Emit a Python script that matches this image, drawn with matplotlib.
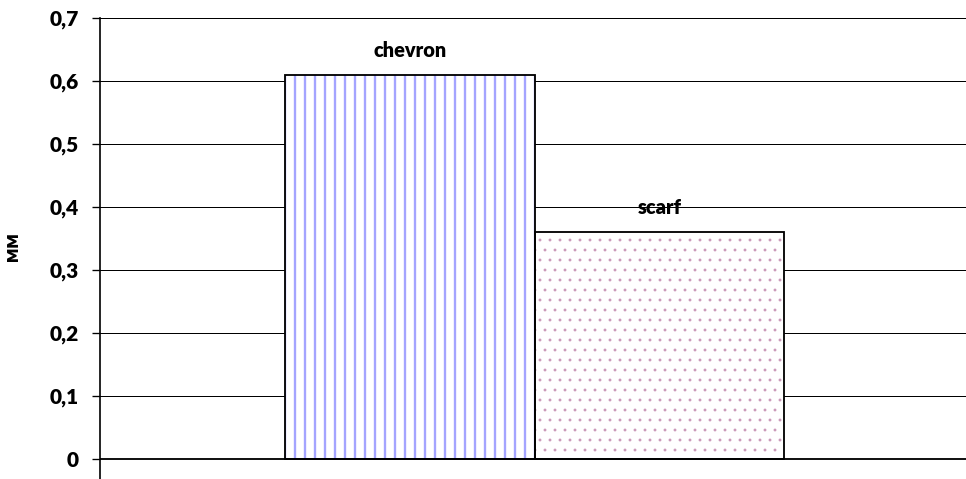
import numpy as np
import matplotlib.pyplot as plt
from matplotlib.ticker import FuncFormatter

categories = ['chevron', 'scarf']
values = [0.61, 0.36]
yticks = [0, 0.1, 0.2, 0.3, 0.4, 0.5, 0.6, 0.7]

fonts = ['Lato', 'Open Sans', 'DejaVu Sans']
plt.rcParams['font.family'] = fonts

DPI = 120
fig = plt.figure(figsize=(966 / DPI, 479 / DPI), dpi=DPI)
ax = fig.add_axes([100 / 966, 0, 1 - 100 / 966, 1 - 18 / 479])

x = np.arange(len(categories))
hatches = ['||', '..']
hatch_colors = ['#a4a4ff', '#c995b5']
hatch_lw = [1.4, 0.5]

for xi, v, h, hc, hlw in zip(x, values, hatches, hatch_colors, hatch_lw):
    with plt.rc_context({'hatch.linewidth': hlw}):
        b = ax.bar(xi, v, width=1.0, color='white', edgecolor=hc,
                   hatch=h, linewidth=0, zorder=2)
    if hasattr(b[0], 'set_hatch_linewidth'):
        b[0].set_hatch_linewidth(hlw)
    ax.bar(xi, v, width=1.0, fill=False, edgecolor='black',
           linewidth=1.1, zorder=3)

for xi, v, name in zip(x, values, categories):
    ax.annotate(name, (xi, v), xytext=(0, 9), textcoords='offset points',
                ha='center', va='bottom', fontsize=12, fontweight='heavy')

ax.set_xlim(-1.242, 2.228)
ax.set_ylim(-20 / 630, 0.7)
ax.set_yticks(yticks)
ax.yaxis.set_major_formatter(
    FuncFormatter(lambda v, p: '0' if v == 0 else f'{v:.1f}'.replace('.', ',')))
ax.set_xticks([])

for y in yticks[1:]:
    ax.axhline(y, color='black', linewidth=0.6, zorder=1)
ax.axhline(0, color='black', linewidth=1.1, zorder=4)

for s in ['top', 'right', 'bottom']:
    ax.spines[s].set_visible(False)
ax.spines['left'].set_linewidth(1.0)
ax.tick_params(axis='y', direction='out', length=4.8, width=0.8,
               pad=8, labelsize=12.5)
for lab in ax.get_yticklabels():
    lab.set_fontweight('heavy')

ax.set_ylabel('мм', fontsize=12, fontweight='heavy')
ax.yaxis.set_label_coords(-79 / 866, 1 - (247 - 18) / 461,
                          transform=ax.transAxes)

fig.savefig('out.png', dpi=DPI)
